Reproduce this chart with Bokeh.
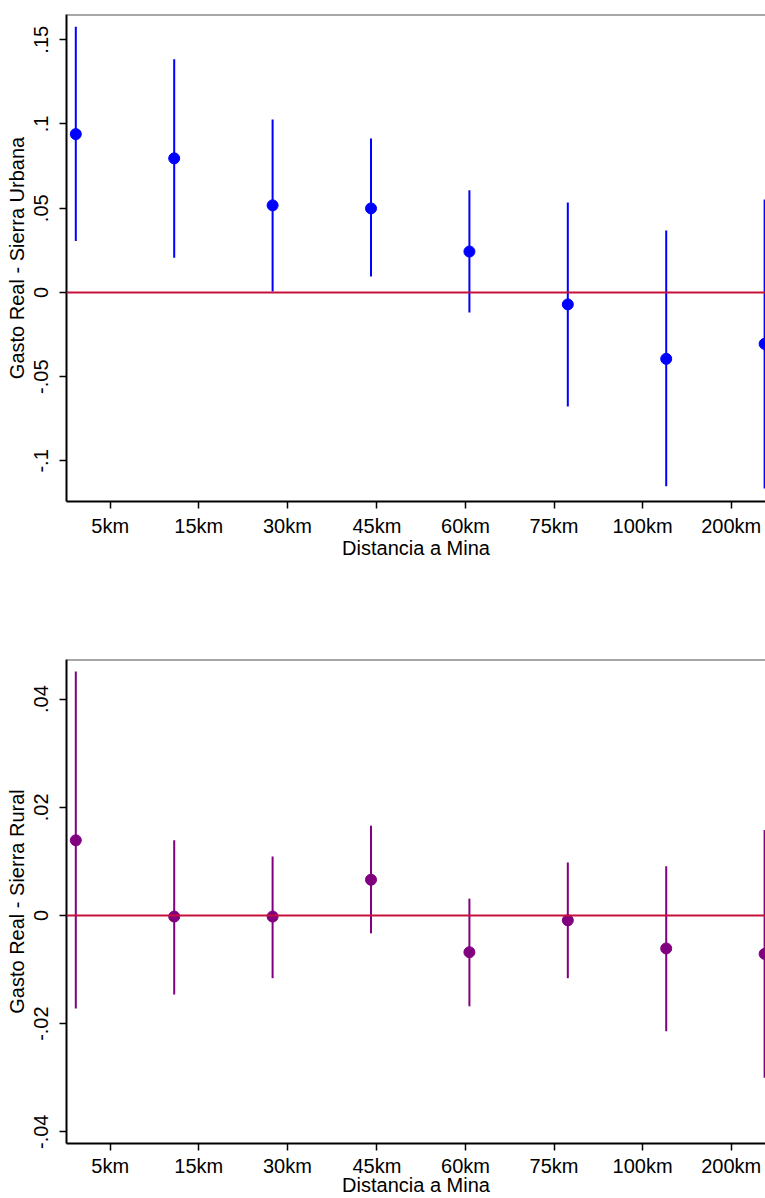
from bokeh.plotting import figure
from bokeh.layouts import column
from bokeh.models import FixedTicker, Span, Range1d
from bokeh.embed import file_html
from bokeh.resources import INLINE

# ---- data ----
dist_labels = ["5km", "15km", "30km", "45km", "60km", "75km", "100km", "200km"]
tick_pos = [1.35, 2.25, 3.15, 4.06, 4.96, 5.86, 6.76, 7.66]
point_pos = [1, 2, 3, 4, 5, 6, 7, 8]

urb_coef = [0.0940, 0.0796, 0.0517, 0.0499, 0.0243, -0.0071, -0.0394, -0.0305]
urb_lo = [0.0305, 0.0206, 0.0006, 0.0095, -0.0119, -0.0677, -0.1150, -0.1164]
urb_hi = [0.1578, 0.1384, 0.1027, 0.0914, 0.0606, 0.0534, 0.0368, 0.0552]

rur_coef = [0.0139, -0.0002, -0.0002, 0.0066, -0.0068, -0.0009, -0.0061, -0.0071]
rur_lo = [-0.0172, -0.0146, -0.0116, -0.0033, -0.0168, -0.0116, -0.0214, -0.0300]
rur_hi = [0.0451, 0.0139, 0.0109, 0.0166, 0.0031, 0.0098, 0.0091, 0.0158]

urb_yticks = [-0.1, -0.05, 0.0, 0.05, 0.1, 0.15]
urb_ylabels = ["-.1", "-.05", "0", ".05", ".1", ".15"]
rur_yticks = [-0.04, -0.02, 0.0, 0.02, 0.04]
rur_ylabels = ["-.04", "-.02", "0", ".02", ".04"]

FONT = "Liberation Sans"
XR = (0.9055, 8.009)


def make_panel(ylabel, coef, lo, hi, color, yr, yticks, ylabels, height, btop, bbot,
               xlab_standoff, xtick_standoff):
    p = figure(width=765, height=height, output_backend="svg", toolbar_location=None,
               x_range=Range1d(*XR), y_range=Range1d(*yr),
               min_border_left=66, min_border_right=0,
               min_border_top=btop, min_border_bottom=bbot)
    p.outline_line_color = None
    p.xgrid.visible = False
    p.ygrid.visible = False
    p.background_fill_color = "white"
    p.border_fill_color = "white"

    # zero line
    p.add_layout(Span(location=0, dimension="width", line_color="#C8103C", line_width=2))
    # top frame border
    p.add_layout(Span(location=yr[1], dimension="width", line_color="#505050", line_width=2))

    p.segment(x0=point_pos, y0=lo, x1=point_pos, y1=hi, line_color=color, line_width=2)
    p.scatter(x=point_pos, y=coef, size=11, fill_color=color, line_color=color)

    # x axis
    xa = p.xaxis[0]
    xa.ticker = FixedTicker(ticks=tick_pos)
    xa.major_label_overrides = {t: l for t, l in zip(tick_pos, dist_labels)}
    xa.minor_tick_line_color = None
    xa.major_tick_in = 0
    xa.major_tick_out = 7
    xa.major_tick_line_width = 1.5
    xa.axis_line_width = 2
    xa.axis_line_color = "black"
    xa.major_label_text_font = FONT
    xa.major_label_text_font_size = "20px"
    xa.major_label_text_color = "black"
    xa.major_label_standoff = xtick_standoff
    xa.axis_label = "Distancia a Mina"
    xa.axis_label_text_font = FONT
    xa.axis_label_text_font_size = "20px"
    xa.axis_label_text_font_style = "normal"
    xa.axis_label_text_color = "black"
    xa.axis_label_standoff = xlab_standoff

    # y axis
    ya = p.yaxis[0]
    ya.ticker = FixedTicker(ticks=yticks)
    ya.major_label_overrides = {t: l for t, l in zip(yticks, ylabels)}
    ya.minor_tick_line_color = None
    ya.major_tick_in = 0
    ya.major_tick_out = 7
    ya.major_tick_line_width = 1.5
    ya.axis_line_width = 2
    ya.axis_line_color = "black"
    ya.major_label_orientation = "vertical"
    ya.major_label_text_font = FONT
    ya.major_label_text_font_size = "20px"
    ya.major_label_text_color = "black"
    ya.major_label_standoff = 11
    ya.axis_label = ylabel
    ya.axis_label_text_font = FONT
    ya.axis_label_text_font_size = "20px"
    ya.axis_label_text_font_style = "normal"
    ya.axis_label_text_color = "black"
    ya.axis_label_standoff = 4
    return p


top = make_panel("Gasto Real - Sierra Urbana", urb_coef, urb_lo, urb_hi, "#0000FF",
                 (-0.1241, 0.165), urb_yticks, urb_ylabels, 561, 14, 60, -3, 6)
bot = make_panel("Gasto Real - Sierra Rural", rur_coef, rur_lo, rur_hi, "#800080",
                 (-0.04217, 0.04733), rur_yticks, rur_ylabels, 637, 98, 53, -6, 4)

layout = column(top, bot, spacing=0)
open("out.html", "w").write(file_html(layout, INLINE))
